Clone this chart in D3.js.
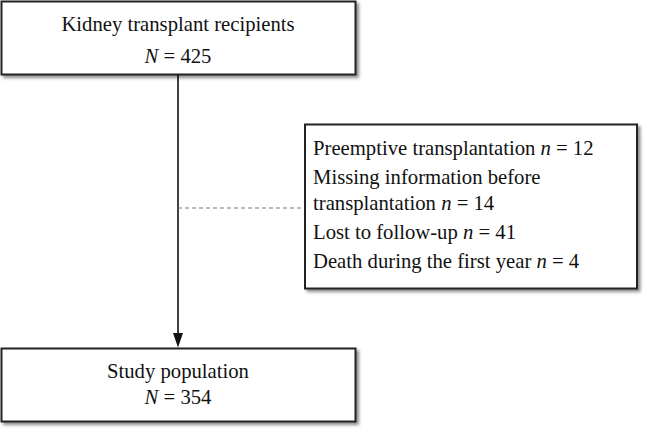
<!DOCTYPE html>
<html><head><meta charset="utf-8">
<script src="https://cdn.jsdelivr.net/npm/d3@7"></script>
<style>html,body{margin:0;padding:0;background:#fff}</style>
</head><body>
<script>
// Data
const topLabel = ["Kidney transplant recipients"];
const topN = 425;
const bottomLabel = ["Study population"];
const bottomN = 354;
const exclusions = [
  {lines: ["Preemptive transplantation"], n: 12},
  {lines: ["Missing information before", "transplantation"], n: 14},
  {lines: ["Lost to follow-up"], n: 41},
  {lines: ["Death during the first year"], n: 4}
];

const W = 647, H = 431;
const svg = d3.select("body").append("svg").attr("width", W).attr("height", H);
const defs = svg.append("defs");
const f = defs.append("filter").attr("id","sh").attr("x","-5%").attr("y","-5%").attr("width","115%").attr("height","120%");
f.append("feDropShadow").attr("dx",2.5).attr("dy",2.5).attr("stdDeviation",1.6).attr("flood-color","#000").attr("flood-opacity",0.45);

const font = "Liberation Serif, Times New Roman, serif";
const fs = 20.7;

function box(x,y,w,h){
  svg.append("rect").attr("x",x).attr("y",y).attr("width",w).attr("height",h)
    .attr("fill","#fff").attr("stroke","#222").attr("stroke-width",2).attr("filter","url(#sh)");
}
function nLine(g, x, y, letter, val, anchor){
  const t = g.append("text").attr("x",x).attr("y",y).attr("text-anchor",anchor||"middle")
    .attr("font-family",font).attr("font-size",fs).attr("fill","#111");
  t.append("tspan").attr("font-style","italic").text(letter);
  t.append("tspan").text(" = " + val);
  return t;
}

const cx = 178;
// connector lines
svg.append("line").attr("x1",cx).attr("x2",cx).attr("y1",75).attr("y2",336)
  .attr("stroke","#111").attr("stroke-width",1.6);
svg.append("path").attr("d",`M${cx-5},333 L${cx+5},333 L${cx},347.5 Z`).attr("fill","#111");
svg.append("line").attr("x1",cx).attr("x2",305).attr("y1",208).attr("y2",208)
  .attr("stroke","#777").attr("stroke-width",1.2).attr("stroke-dasharray","4,3");

// top box
box(1.5,1.5,354,73);
const g1 = svg.append("g");
topLabel.forEach((s,i)=>g1.append("text").attr("x",cx).attr("y",31+i*26).attr("text-anchor","middle")
  .attr("font-family",font).attr("font-size",fs).attr("fill","#111").text(s));
nLine(g1,cx,63,"N",topN);

// bottom box
box(1.5,348.5,354,73);
const g2 = svg.append("g");
bottomLabel.forEach((s,i)=>g2.append("text").attr("x",cx).attr("y",378+i*26).attr("text-anchor","middle")
  .attr("font-family",font).attr("font-size",fs).attr("fill","#111").text(s));
nLine(g2,cx,404,"N",bottomN);

// side box
box(305,124.5,332,164);
const g3 = svg.append("g");
let y = 155;
exclusions.forEach((e)=>{
  e.lines.forEach((s,i)=>{
    const last = i === e.lines.length-1;
    const t = g3.append("text").attr("x",313).attr("y",y).attr("font-family",font).attr("font-size",fs).attr("fill","#111");
    t.append("tspan").text(s + (last ? " " : ""));
    if(last){
      t.append("tspan").attr("font-style","italic").text("n");
      t.append("tspan").text(" = " + e.n);
    }
    y += last ? 29 : 26;
  });
});
</script>
</body></html>
